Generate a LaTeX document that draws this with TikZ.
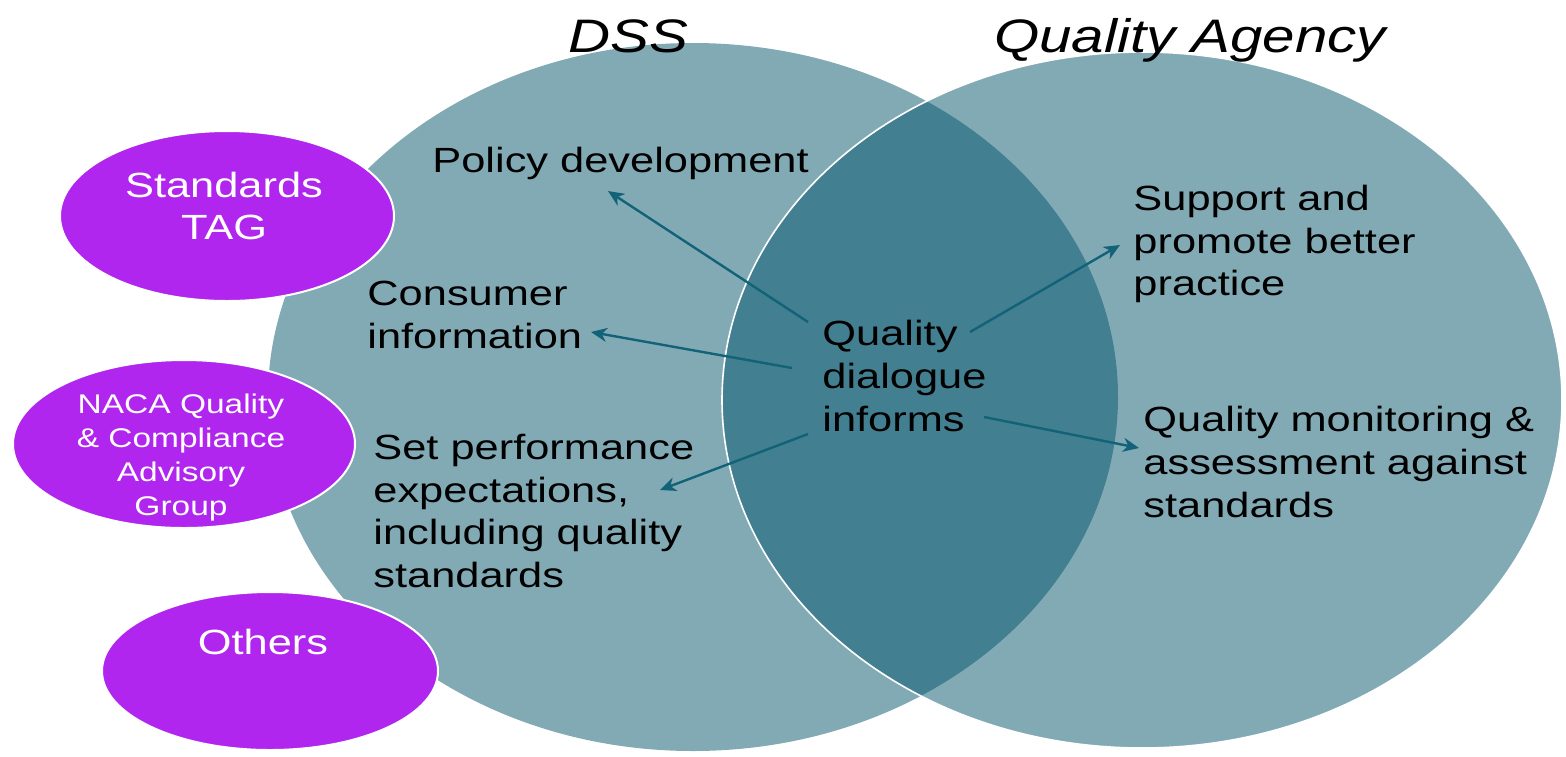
\documentclass[tikz,border=0pt]{standalone}
\usepackage{fontspec}
\setmainfont[FakeStretch=1.24]{Liberation Sans}
\usetikzlibrary{shapes.geometric,arrows.meta}

\definecolor{vennteal}{RGB}{0,82,105}
\definecolor{grppurple}{RGB}{176,38,238}
\definecolor{flowteal}{RGB}{18,98,120}

\begin{document}
\begin{tikzpicture}[x=0.5pt, y=-0.5pt,
  venn/.style={fill=vennteal, fill opacity=0.49},
  grp/.style={ellipse, fill=grppurple, draw=white, line width=1pt, inner sep=0pt},
  grptxt/.style={text=white, align=center, inner sep=0pt, font=\fontsize{17.5}{21}\selectfont},
  txt/.style={anchor=west, align=left, inner sep=0pt, font=\fontsize{17.5}{21.3}\selectfont},
  ttl/.style={anchor=base, inner sep=0pt, font=\fontsize{23.5}{28}\selectfont\itshape},
  flow/.style={draw=flowteal, line width=1.2pt, -{Stealth[length=8pt,width=7pt,inset=2.5pt]}}]

  \useasboundingbox (0,0) rectangle (1566,756);

  % the two circles
  \fill[venn] (693,397) ellipse [x radius=212.5pt, y radius=177pt];
  \fill[venn] (1142,400) ellipse [x radius=210pt, y radius=174pt];
  \draw[white, line width=0.8pt] (1142,400) ellipse [x radius=210pt, y radius=174pt];

  \node[ttl] (dss) at (628,52) {DSS};
  \node[ttl] (qa) at (1190,52) {Quality Agency};

  % advisory groups
  \node[grp, minimum width=167pt, minimum height=85pt] (tag) at (227,216) {};
  \node[grptxt] (taglbl) at (224,206) {Standards\\TAG};
  \node[grp, minimum width=171pt, minimum height=84pt] (naca) at (184,444) {};
  \node[grptxt, font=\fontsize{13.5}{17}\selectfont] (nacalbl) at (181,458)
    {NACA Quality\\\& Compliance\\Advisory\\Group};
  \node[grp, minimum width=168pt, minimum height=79pt] (oth) at (270,671) {};
  \node[grptxt] (othlbl) at (263,642) {Others};

  % roles
  \node[txt] (pol) at (432,163) {Policy development};
  \node[txt] (con) at (367,315) {Consumer\\information};
  \node[txt] (set) at (373,511) {Set performance\\expectations,\\including quality\\standards};
  \node[txt] (qd) at (822,376) {Quality\\dialogue\\informs};
  \node[txt] (sup) at (1133,244) {Support and\\promote better\\practice};
  \node[txt] (mon) at (1143,462) {Quality monitoring \&\\assessment against\\standards};

  \coordinate (qdpol) at (808,322);
  \coordinate (qdcon) at (792,368);
  \coordinate (qdset) at (808,434);
  \coordinate (qdsup) at (970,332);
  \coordinate (qdmon) at (984,417);
  \coordinate (polend) at (608,191);
  \coordinate (conend) at (591,332);
  \coordinate (setend) at (660,490);
  \coordinate (supend) at (1120,245);
  \coordinate (monend) at (1139,448);

  \draw[flow] (qdpol) -- (polend);
  \draw[flow] (qdcon) -- (conend);
  \draw[flow] (qdset) -- (setend);
  \draw[flow] (qdsup) -- (supend);
  \draw[flow] (qdmon) -- (monend);

\end{tikzpicture}
\end{document}
